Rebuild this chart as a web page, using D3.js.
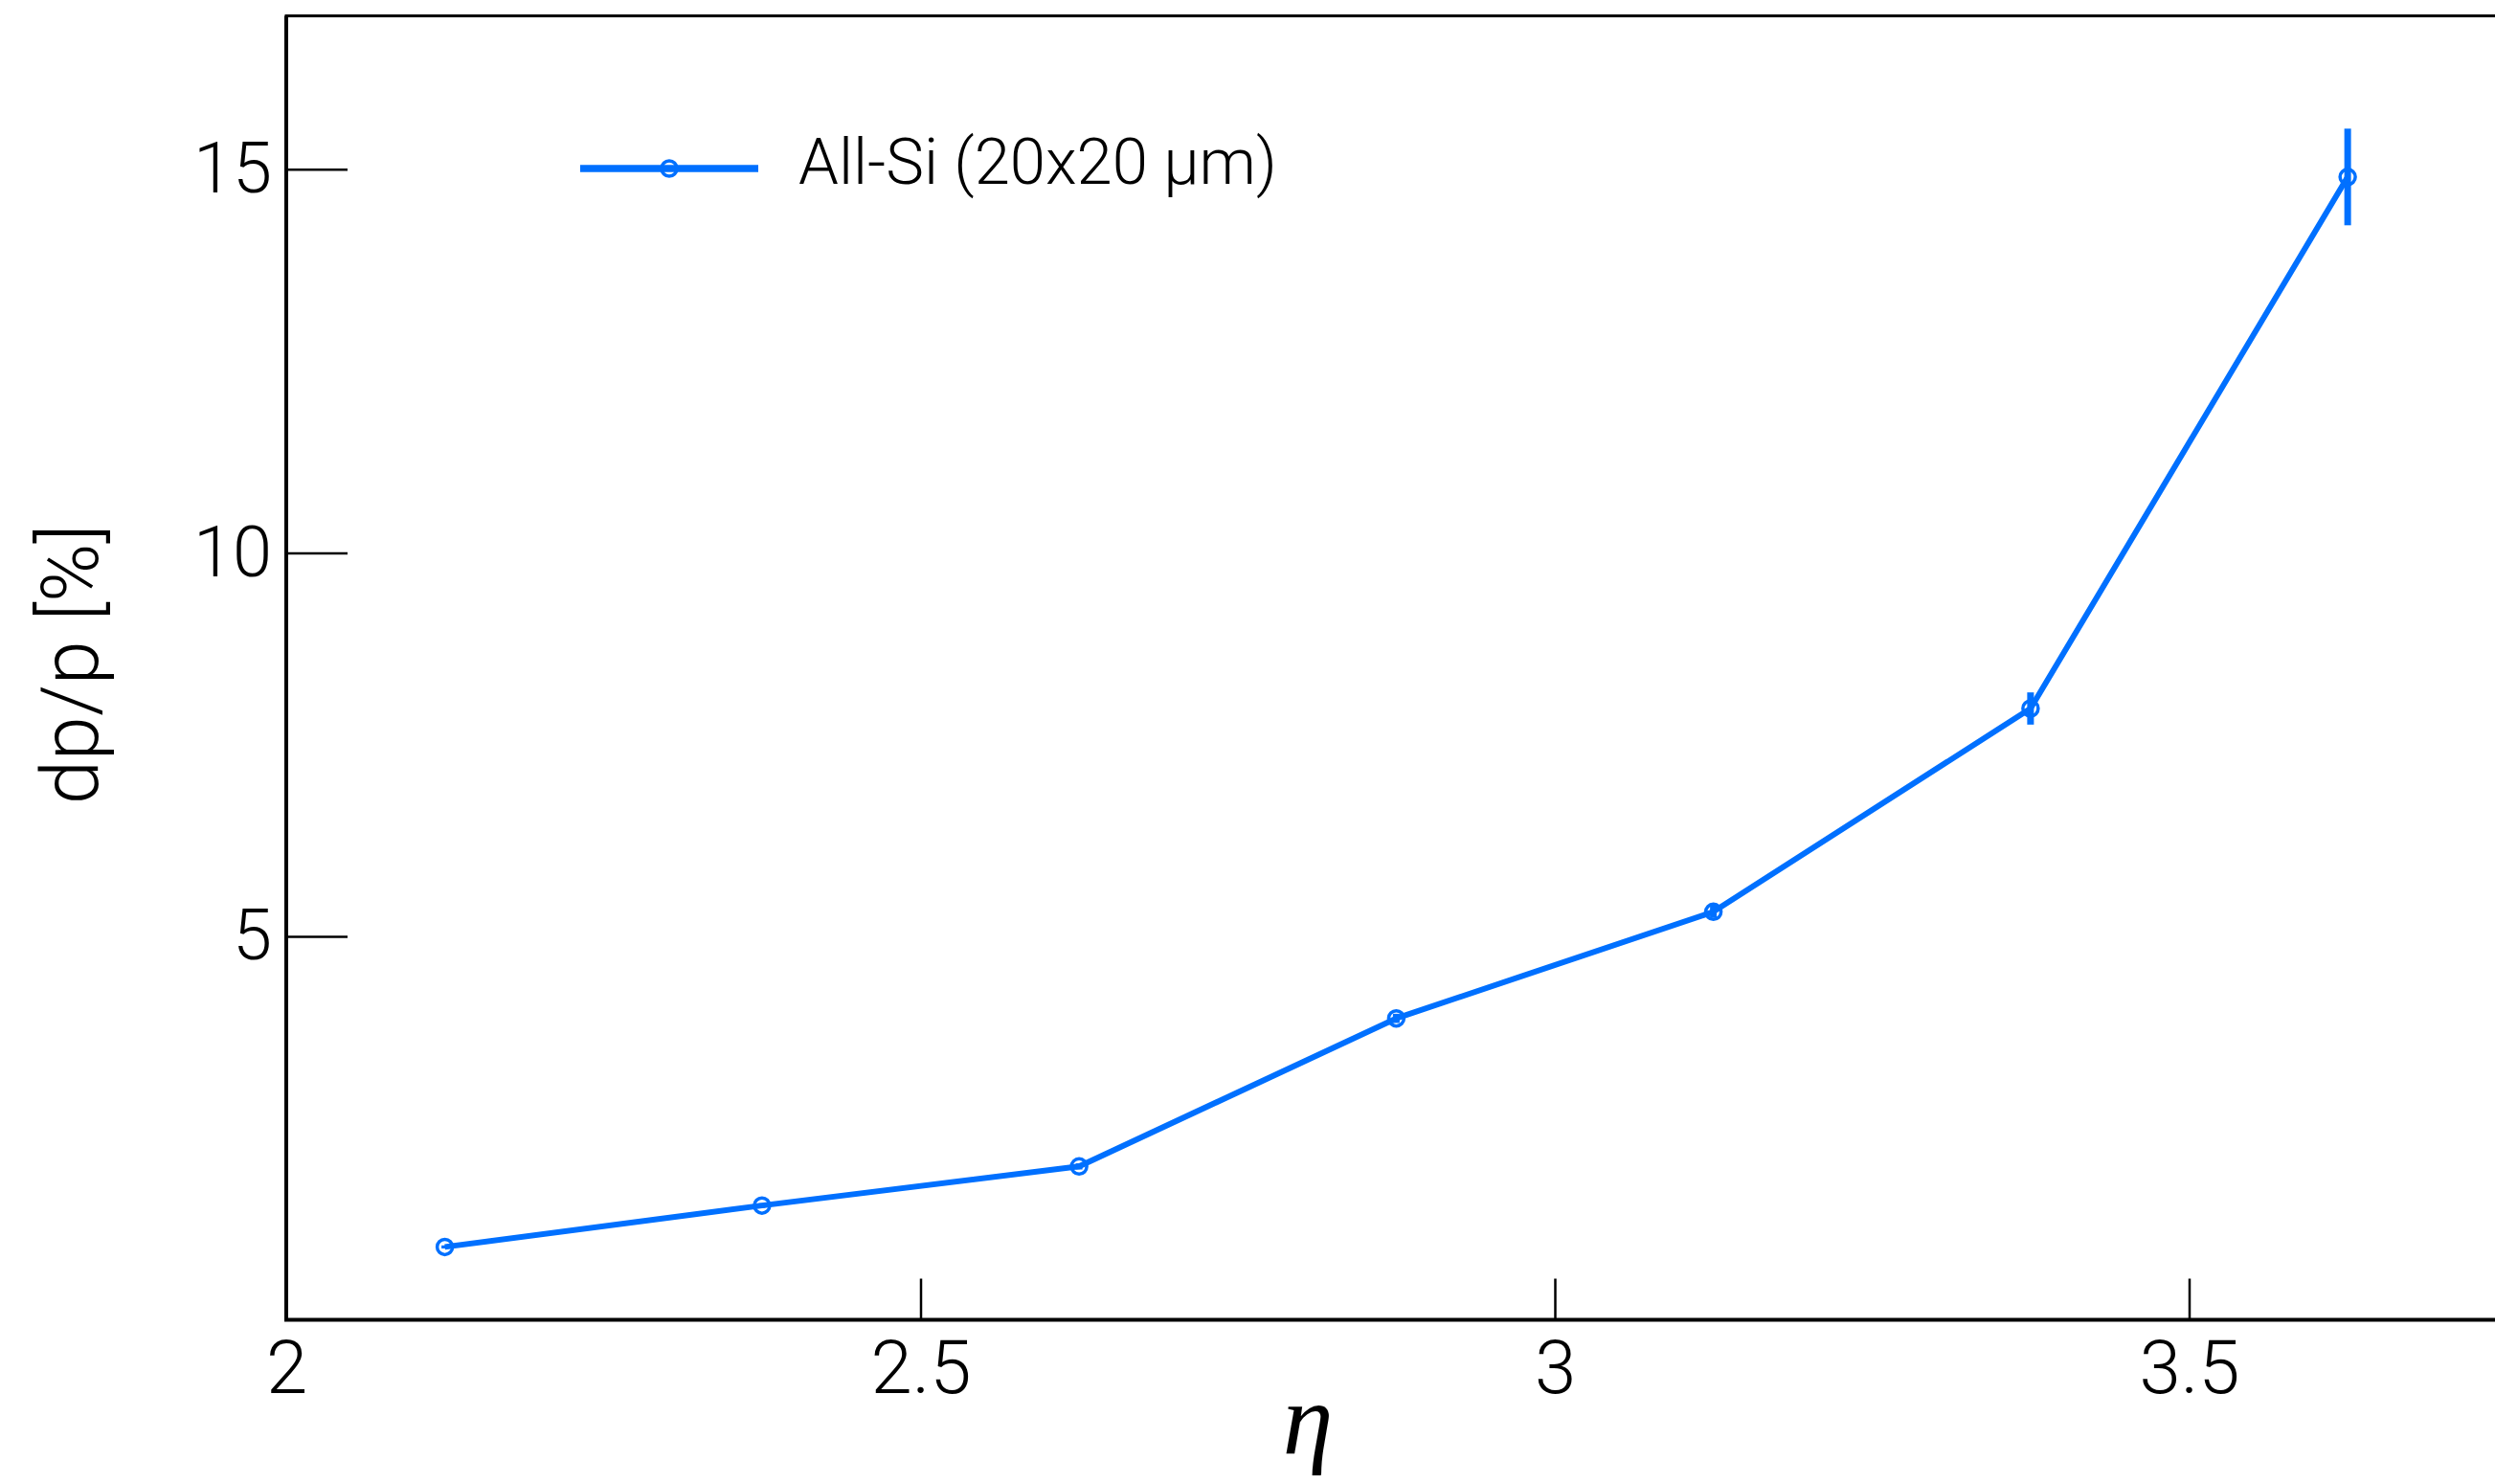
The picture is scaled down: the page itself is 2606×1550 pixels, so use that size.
<!DOCTYPE html>
<html>
<head>
<meta charset="utf-8">
<script src="https://cdn.jsdelivr.net/npm/d3@7"></script>
<style>
  html, body { margin: 0; padding: 0; background: #fff; overflow: hidden; }
  svg { display: block; }
  .tick text { font-family: Roboto, "Liberation Sans", sans-serif; font-weight: 300; fill: #000; }
</style>
</head>
<body>
<svg id="chart"></svg>
<script>
// Momentum resolution vs pseudorapidity, All-Si tracker (20x20 µm pixels)
const etaBins   = [2.125, 2.375, 2.625, 2.875, 3.125, 3.375, 3.625];
const dppValues = [0.95, 1.49, 2.00, 3.93, 5.32, 7.97, 14.90];
const dppErrors = [0.02, 0.03, 0.04, 0.06, 0.08, 0.21, 0.63];
const xTicks = [2, 2.5, 3, 3.5];
const yTicks = [5, 10, 15];
const seriesLabel = "All-Si (20x20 \u03bcm)";
const xTitle = "\u03b7";
const yTitle = "dp/p [%]";

const W = 2606, H = 1550;
const blue = "#0070ff";
const plotLeft = 299, plotTop = 16.6, plotBottom = 1378.5;

const svg = d3.select("#chart").attr("width", W).attr("height", H);

const x = d3.scaleLinear().domain([2, 3.75]).range([plotLeft, plotLeft + 1.75 * 1325]);
const y = d3.scaleLinear().domain([0, 17]).range([plotBottom, plotTop]);

// y axis, ticks pointing into the frame
const gy = svg.append("g")
  .attr("transform", `translate(${plotLeft},0)`)
  .call(d3.axisLeft(y).tickValues(yTicks).tickFormat(d3.format("d"))
    .tickSizeInner(-64).tickSizeOuter(0).tickPadding(15));
gy.select(".domain").remove();
gy.selectAll(".tick line").attr("stroke", "#000").attr("stroke-width", 2.5);
gy.selectAll(".tick text").attr("font-size", 74);

// x axis
const gx = svg.append("g")
  .attr("transform", `translate(0,${plotBottom})`)
  .call(d3.axisBottom(x).tickValues(xTicks).tickFormat(d => String(d))
    .tickSizeInner(-43).tickSizeOuter(0).tickPadding(21));
gx.select(".domain").remove();
gx.selectAll(".tick line").attr("stroke", "#000").attr("stroke-width", 2.5);
gx.selectAll(".tick text").attr("font-size", 78);

// frame: thin top, heavier left and bottom edges
svg.append("rect")
  .attr("x", x(2)).attr("y", y(17))
  .attr("width", x(3.75) - x(2)).attr("height", y(0) - y(17))
  .attr("fill", "none").attr("stroke", "#000").attr("stroke-width", 3);
svg.append("path")
  .attr("d", `M${x(2)},${y(17)}V${y(0)}H${x(3.75)}`)
  .attr("fill", "none").attr("stroke", "#000").attr("stroke-width", 4);

const pts = etaBins.map((e, i) => ({ e, v: dppValues[i], err: dppErrors[i] }));

// error bars
svg.append("g").selectAll("line")
  .data(pts).join("line")
  .attr("x1", d => x(d.e)).attr("x2", d => x(d.e))
  .attr("y1", d => y(d.v - d.err)).attr("y2", d => y(d.v + d.err))
  .attr("stroke", blue).attr("stroke-width", 7);

// curve
svg.append("path")
  .datum(pts)
  .attr("d", d3.line().x(d => x(d.e)).y(d => y(d.v)))
  .attr("fill", "none").attr("stroke", blue).attr("stroke-width", 6)
  .attr("stroke-linejoin", "round");

// markers
svg.append("g").selectAll("circle")
  .data(pts).join("circle")
  .attr("cx", d => x(d.e)).attr("cy", d => y(d.v)).attr("r", 8)
  .attr("fill", "none").attr("stroke", blue).attr("stroke-width", 3.5);

// legend
const lg = svg.append("g");
lg.append("line").attr("x1", 606).attr("x2", 792).attr("y1", 176).attr("y2", 176)
  .attr("stroke", blue).attr("stroke-width", 7.5);
lg.append("circle").attr("cx", 699).attr("cy", 176).attr("r", 8)
  .attr("fill", "none").attr("stroke", blue).attr("stroke-width", 3.5);
lg.append("text").attr("x", 834).attr("y", 192)
  .attr("font-family", "Roboto, 'Liberation Sans', sans-serif").attr("font-weight", 300)
  .attr("font-size", 67).attr("fill", "#000").text(seriesLabel);

// axis titles
svg.append("text").attr("x", 1366).attr("y", 1518).attr("text-anchor", "middle")
  .attr("font-family", "'Liberation Serif', 'DejaVu Serif', serif").attr("font-style", "italic")
  .attr("font-size", 106).attr("fill", "#000").text(xTitle);

svg.append("text")
  .attr("transform", "translate(102,694) rotate(-90)")
  .attr("text-anchor", "middle")
  .attr("font-family", "Roboto, 'Liberation Sans', sans-serif").attr("font-weight", 300)
  .attr("font-size", 83).attr("fill", "#000").text(yTitle);
</script>
</body>
</html>
